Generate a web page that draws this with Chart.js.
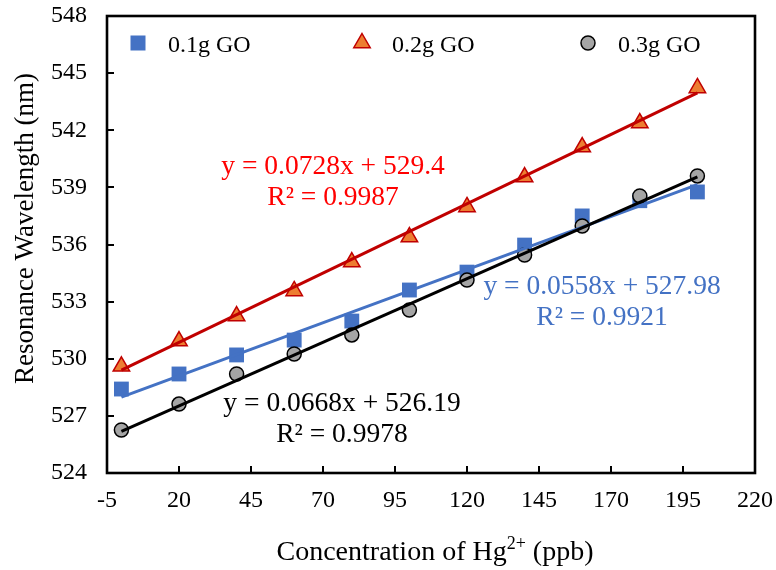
<!DOCTYPE html>
<html>
<head>
<meta charset="utf-8">
<title>Resonance wavelength vs Hg2+ concentration</title>
<script src="https://cdn.jsdelivr.net/npm/chart.js@4.4.1/dist/chart.umd.min.js"></script>
<style>
  html, body { margin: 0; padding: 0; background: #fff; }
</style>
</head>
<body>
<canvas id="wavelengthChart" width="776" height="570"></canvas>
<script>
// measured shift of the resonance dip, one array per GO loading
const concentration = [0, 20, 40, 60, 80, 100, 120, 140, 160, 180, 200];
const go01 = [528.41, 529.20, 530.20, 530.98, 531.98, 533.61, 534.55, 535.97, 537.50, 538.30, 538.76];
const go02 = [529.60, 530.93, 532.24, 533.56, 535.08, 536.39, 537.97, 539.54, 541.12, 542.38, 544.22];
const go03 = [526.26, 527.62, 529.20, 530.25, 531.25, 532.56, 534.13, 535.45, 536.97, 538.55, 539.60];

const seriesNames = ['0.1g GO', '0.2g GO', '0.3g GO'];

// linear fits (same order as seriesNames)
const slopes = [0.0558, 0.0728, 0.0668];
const intercepts = [527.98, 529.4, 526.19];
const rSquared = ['0.9921', '0.9987', '0.9978'];

const xTicks = [-5, 20, 45, 70, 95, 120, 145, 170, 195, 220];
const yTicks = [524, 527, 530, 533, 536, 539, 542, 545, 548];

const FONT = "'Liberation Serif', 'Times New Roman', serif";
const BLUE = '#4472C4';
const DARK_RED = '#C00000';

Chart.defaults.font.family = FONT;
Chart.defaults.color = '#000';

function toPoints(values) {
    return concentration.map((x, i) => ({ x: x, y: values[i] }));
}

// trendline from the fitted equation, over the measured range
function fitLine(i) {
    const first = concentration[0];
    const last = concentration[concentration.length - 1];
    return [first, last].map(x => ({ x: x, y: slopes[i] * x + intercepts[i] }));
}

function equationText(i) {
    return 'y = ' + slopes[i] + 'x + ' + intercepts[i];
}

function drawMarker(ctx, style, x, y) {
    ctx.save();
    ctx.lineWidth = 1.5;
    if (style === 'rect') {
        ctx.fillStyle = BLUE;
        ctx.fillRect(x - 7.5, y - 7.5, 15, 15);
    } else if (style === 'triangle') {
        const r = 9.5;
        ctx.beginPath();
        ctx.moveTo(x, y - r);
        ctx.lineTo(x + r * 0.866, y + r / 2);
        ctx.lineTo(x - r * 0.866, y + r / 2);
        ctx.closePath();
        ctx.fillStyle = '#ED7D31';
        ctx.strokeStyle = DARK_RED;
        ctx.fill();
        ctx.stroke();
    } else {
        ctx.beginPath();
        ctx.arc(x, y, 7, 0, Math.PI * 2);
        ctx.fillStyle = '#A5A5A5';
        ctx.strokeStyle = '#000';
        ctx.fill();
        ctx.stroke();
    }
    ctx.restore();
}

// box frame, inward tick marks, fit equations, legend and axis titles
const decorations = {
    id: 'decorations',
    afterDraw(chart, args, opts) {
        const ctx = chart.ctx;
        const area = chart.chartArea;
        const xs = chart.scales.x;
        const ys = chart.scales.y;

        ctx.save();
        ctx.strokeStyle = '#000';
        ctx.lineWidth = 2.6;
        ctx.strokeRect(area.left, area.top, area.right - area.left, area.bottom - area.top);

        ctx.lineWidth = 2;
        ctx.beginPath();
        xTicks.slice(1, -1).forEach(v => {
            const px = Math.round(xs.getPixelForValue(v));
            ctx.moveTo(px, area.bottom);
            ctx.lineTo(px, area.bottom - 7);
        });
        yTicks.slice(1, -1).forEach(v => {
            const py = Math.round(ys.getPixelForValue(v));
            ctx.moveTo(area.left, py);
            ctx.lineTo(area.left + 7, py);
        });
        ctx.stroke();

        // fit equations
        ctx.textAlign = 'center';
        ctx.textBaseline = 'middle';
        ctx.font = '27.5px ' + FONT;
        opts.equations.forEach(eq => {
            const px = xs.getPixelForValue(eq.x);
            const py = ys.getPixelForValue(eq.y);
            ctx.fillStyle = eq.color;
            ctx.fillText(equationText(eq.series), px, py);
            ctx.fillText('R\u00B2 = ' + rSquared[eq.series], px, py + 31);
        });

        // legend along the top of the plot
        ctx.textAlign = 'left';
        ctx.textBaseline = 'alphabetic';
        ctx.font = '24px ' + FONT;
        opts.legend.forEach((item, i) => {
            const mx = area.left + item.offset;
            const my = area.top + 27;
            drawMarker(ctx, item.style, mx, my);
            ctx.fillStyle = '#000';
            ctx.fillText(seriesNames[i], mx + 30, my + 9);
        });

        // y axis title
        ctx.save();
        ctx.translate(33, (area.top + area.bottom) / 2 - 16);
        ctx.rotate(-Math.PI / 2);
        ctx.textAlign = 'center';
        ctx.font = '27px ' + FONT;
        ctx.fillText('Resonance Wavelength (nm)', 0, 0);
        ctx.restore();

        // x axis title with superscript charge
        const big = '28px ' + FONT;
        const small = '18px ' + FONT;
        const parts = [
            { text: 'Concentration of Hg', font: big, rise: 0 },
            { text: '2+', font: small, rise: 11 },
            { text: ' (ppb)', font: big, rise: 0 }
        ];
        let total = 0;
        parts.forEach(p => { ctx.font = p.font; p.w = ctx.measureText(p.text).width; total += p.w; });
        let tx = (area.left + area.right) / 2 + 4 - total / 2;
        const baseY = chart.height - 10;
        ctx.textAlign = 'left';
        parts.forEach(p => {
            ctx.font = p.font;
            ctx.fillText(p.text, tx, baseY - p.rise);
            tx += p.w;
        });
        ctx.restore();
    }
};

new Chart(document.getElementById('wavelengthChart'), {
    type: 'scatter',
    data: {
        datasets: [
            {
                label: seriesNames[0] + ' fit',
                data: fitLine(0),
                showLine: true,
                borderColor: BLUE,
                borderWidth: 3,
                pointRadius: 0,
                order: 2
            },
            {
                label: seriesNames[1] + ' fit',
                data: fitLine(1),
                showLine: true,
                borderColor: DARK_RED,
                borderWidth: 3,
                pointRadius: 0,
                order: 1
            },
            {
                label: seriesNames[2] + ' fit',
                data: fitLine(2),
                showLine: true,
                borderColor: '#000',
                borderWidth: 3,
                pointRadius: 0,
                order: 0
            },
            {
                label: seriesNames[0],
                data: toPoints(go01),
                pointStyle: 'rect',
                pointRadius: 10.5,
                backgroundColor: BLUE,
                borderColor: BLUE,
                borderWidth: 0,
                order: 5
            },
            {
                label: seriesNames[1],
                data: toPoints(go02),
                pointStyle: 'triangle',
                pointRadius: 9.5,
                backgroundColor: '#ED7D31',
                borderColor: DARK_RED,
                borderWidth: 1.5,
                order: 4
            },
            {
                label: seriesNames[2],
                data: toPoints(go03),
                pointStyle: 'circle',
                pointRadius: 7,
                backgroundColor: '#A5A5A5',
                borderColor: '#000',
                borderWidth: 1.5,
                order: 3
            }
        ]
    },
    options: {
        responsive: false,
        animation: false,
        events: [],
        layout: { padding: { top: 16, right: 21, left: 0, bottom: 0 } },
        scales: {
            x: {
                type: 'linear',
                min: xTicks[0],
                max: xTicks[xTicks.length - 1],
                afterBuildTicks: s => { s.ticks = xTicks.map(v => ({ value: v })); },
                afterFit: s => {
                    s.height = 97;
                    s.paddingLeft = 0;
                    s.paddingRight = 0;
                },
                grid: { display: false, drawTicks: false },
                border: { display: false },
                ticks: { font: { size: 24 }, padding: 13, maxRotation: 0 }
            },
            y: {
                min: yTicks[0],
                max: yTicks[yTicks.length - 1],
                afterBuildTicks: s => { s.ticks = yTicks.map(v => ({ value: v })); },
                afterFit: s => {
                    s.width = 107;
                    s.paddingTop = 0;
                    s.paddingBottom = 0;
                },
                grid: { display: false, drawTicks: false },
                border: { display: false },
                ticks: { font: { size: 24 }, padding: 20 }
            }
        },
        plugins: {
            legend: { display: false },
            tooltip: { enabled: false },
            decorations: {
                equations: [
                    { series: 1, x: 73.5, y: 540.1, color: '#FF0000' },
                    { series: 0, x: 166.9, y: 533.8, color: BLUE },
                    { series: 2, x: 76.6, y: 527.65, color: '#000' }
                ],
                legend: [
                    { style: 'rect', offset: 31 },
                    { style: 'triangle', offset: 255 },
                    { style: 'circle', offset: 481 }
                ]
            }
        }
    },
    plugins: [decorations]
});
</script>
</body>
</html>
